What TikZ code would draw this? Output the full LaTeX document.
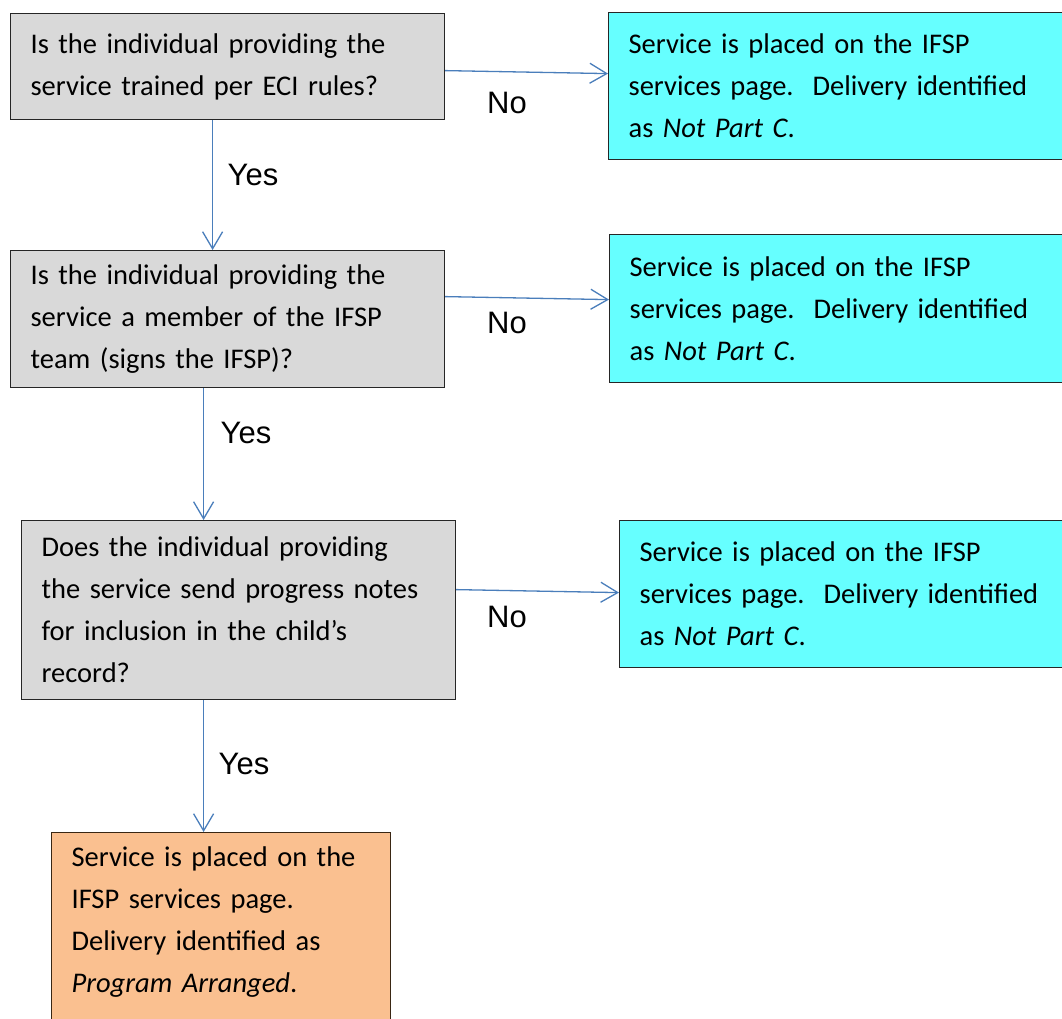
\documentclass[tikz,border=0pt]{standalone}
\usepackage{fontspec}
\setmainfont{Carlito}
\newfontfamily\labelfont{Liberation Sans}
\usetikzlibrary{calc}
\usetikzlibrary{arrows.meta}
\definecolor{question gray}{HTML}{D9D9D9}
\definecolor{not part c}{HTML}{66FFFF}
\definecolor{arranged}{HTML}{FAC090}
\definecolor{connector}{HTML}{4A7EBB}
\tikzset{
    % Open arrow heads for all connectors
    >={Straight Barb[length=17pt, width=20pt]},
%
    % Common shape of every text box
    text box/.style={draw=black!85, line width=1.2pt, rectangle, anchor=north west,
        inner xsep=20pt, align=left,
        font=\fontsize{28.5}{42}\selectfont\frenchspacing},
%
    % The three questions
    question/.style={text box, fill=question gray},
    % Answers that send the service outside Part C
    outcome/.style={text box, fill=not part c},
    % The final outcome
    arranged box/.style={text box, fill=arranged, draw=black!70!brown},
%
    % Connector lines and their labels
    flow/.style={->, draw=connector, line width=1.3pt},
    answer/.style={font=\labelfont\fontsize{31}{36}\selectfont}}

\begin{document}
\begin{tikzpicture}[x=1pt, y=-1pt]
\useasboundingbox (0,0) rectangle (1062,1018);

% Questions down the left side
\node [question, minimum width=434pt, minimum height=106pt, text width=394pt]
    (q1) at (10,13)
    {Is the individual providing the\\service trained per ECI rules?};
\node [question, minimum width=434pt, minimum height=137pt, text width=394pt]
    (q2) at (10,250)
    {Is the individual providing the\\service a member of the IFSP\\team (signs the IFSP)?};
\node [question, minimum width=434pt, minimum height=179pt, text width=394pt]
    (q3) at (21,520)
    {Does the individual providing\\the service send progress notes\\for inclusion in the child's\\record?};

% Outcomes on the right, cut by the page edge
\node [outcome, minimum width=470pt, minimum height=147pt, text width=430pt]
    (not c1) at (608,12)
    {Service is placed on the IFSP\\services page.\ \ Delivery identified\\as \textit{Not Part C}.};
\node [outcome, minimum width=470pt, minimum height=148pt, text width=430pt]
    (not c2) at (609,234)
    {Service is placed on the IFSP\\services page.\ \ Delivery identified\\as \textit{Not Part C}.};
\node [outcome, minimum width=460pt, minimum height=147pt, text width=420pt]
    (not c3) at (619,520)
    {Service is placed on the IFSP\\services page.\ \ Delivery identified\\as \textit{Not Part C}.};

% Final outcome at the bottom, running off the page
\node [arranged box, minimum width=339pt, minimum height=200pt, text width=299pt,
    text depth=152pt]
    (program) at (51,832)
    {Service is placed on the\\IFSP services page.\\Delivery identified as\\\textit{Program Arranged}.};

% No branches
\draw [flow] ([yshift=-4pt]q1.east) -- ([yshift=12.5pt]not c1.west);
\draw [flow] ([yshift=22.5pt]q2.east) -- ([yshift=9pt]not c2.west);
\draw [flow] ([yshift=20.5pt]q3.east) -- ([yshift=1.5pt]not c3.west);
\node [answer] (no1) at (507,103) {No};
\node [answer] (no2) at (507,323) {No};
\node [answer] (no3) at (507,617) {No};

% Yes branches
\draw [flow] ([xshift=-15pt]q1.south) -- ([xshift=-15pt]q2.north);
\draw [flow] ([xshift=-24pt]q2.south) -- ([xshift=-35pt]q3.north);
\draw [flow] ([xshift=-35pt]q3.south) -- ([xshift=-17.5pt]program.north);
\node [answer] (yes1) at (253,175) {Yes};
\node [answer] (yes2) at (246,433) {Yes};
\node [answer] (yes3) at (244,764) {Yes};

\end{tikzpicture}
\end{document}
